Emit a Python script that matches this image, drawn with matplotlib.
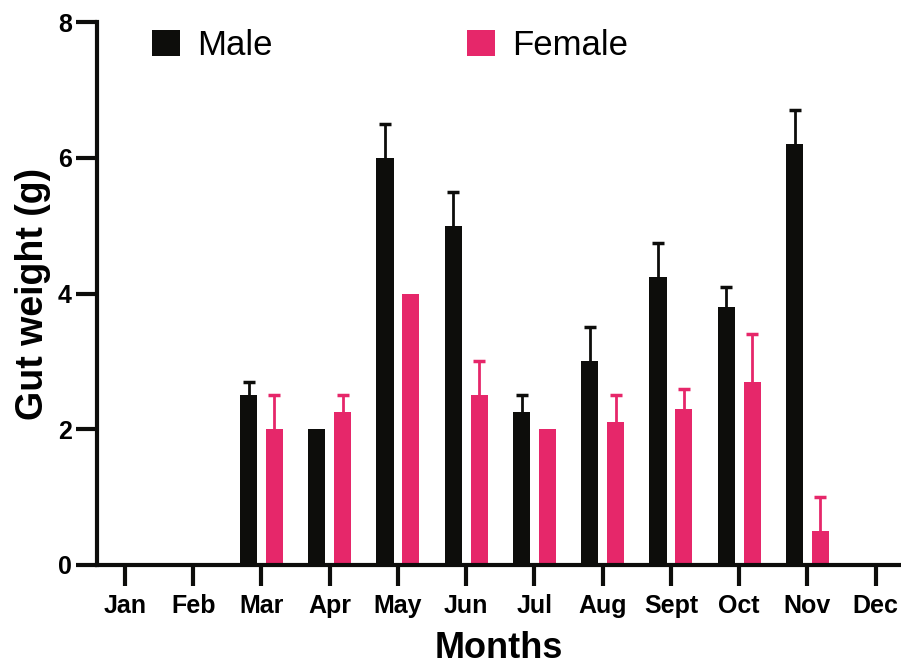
import numpy as np
import matplotlib
matplotlib.use('Agg')
import matplotlib.pyplot as plt

months = ['Jan', 'Feb', 'Mar', 'Apr', 'May', 'Jun', 'Jul', 'Aug', 'Sept', 'Oct', 'Nov', 'Dec']
male = [np.nan, np.nan, 2.5, 2.0, 6.0, 5.0, 2.25, 3.0, 4.25, 3.8, 6.2, np.nan]
male_err = [0, 0, 0.2, 0, 0.5, 0.5, 0.25, 0.5, 0.5, 0.3, 0.5, 0]
female = [np.nan, np.nan, 2.0, 2.25, 4.0, 2.5, 2.0, 2.1, 2.3, 2.7, 0.5, np.nan]
female_err = [0, 0, 0.5, 0.25, 0, 0.5, 0, 0.4, 0.3, 0.7, 0.5, 0]

black = '#0d0d0b'
pink = '#e6276a'

plt.rcParams['font.family'] = ['Liberation Sans', 'DejaVu Sans']

fig = plt.figure(figsize=(9.01, 6.65), dpi=100)
ax = fig.add_axes([97 / 901, 1 - 565 / 665, 1 - 97 / 901, (565 - 22) / 665])

x = np.arange(len(months))
m = np.array(male, dtype=float)
f = np.array(female, dtype=float)
me = np.array(male_err)
fe = np.array(female_err)
off = 0.19
w = 0.25

ok = ~np.isnan(m)
ax.bar(x[ok] - off, m[ok], width=w, color=black, label='Male', zorder=2)
ok = ~np.isnan(f)
ax.bar(x[ok] + off, f[ok], width=w, color=pink, label='Female', zorder=2)

# upper error only, hide the lower caps
for vals, errs, off_x, col in [(m, me, -off, black), (f, fe, off, pink)]:
    ok = errs > 0
    eb = ax.errorbar(x[ok] + off_x, vals[ok], yerr=[np.zeros(ok.sum()), errs[ok]], fmt='none',
                     ecolor=col, elinewidth=2, capsize=4, capthick=2.5, zorder=1)
    eb[1][0].set_visible(False)

ax.set_xlim(-0.41, 11.37)
ax.set_ylim(0, 8)
ax.set_yticks([0, 2, 4, 6, 8])
ax.set_xticks(x)
ax.set_xticklabels(months)

for s in ['top', 'right']:
    ax.spines[s].set_visible(False)
for s in ['left', 'bottom']:
    ax.spines[s].set_linewidth(3)
    ax.spines[s].set_color(black)
ax.spines['bottom'].set_zorder(3)
ax.tick_params(axis='both', width=3, length=15, color=black, labelsize=18)
ax.tick_params(axis='x', pad=6)
ax.tick_params(axis='y', pad=3)
for lab in ax.get_xticklabels() + ax.get_yticklabels():
    lab.set_fontweight('bold')

ax.set_xlabel('Months', fontsize=26, fontweight='bold', labelpad=9)
ax.set_ylabel('Gut weight (g)', fontsize=27, fontweight='bold', labelpad=5)

ax.legend(loc='upper left', bbox_to_anchor=(152 / 901, 1 - 29 / 665), bbox_transform=fig.transFigure,
          ncol=2, frameon=False, fontsize=25, handlelength=0.8, handleheight=0.8,
          handletextpad=0.5, columnspacing=5.6, borderpad=0, borderaxespad=0)

fig.savefig('out.png', dpi=100)
